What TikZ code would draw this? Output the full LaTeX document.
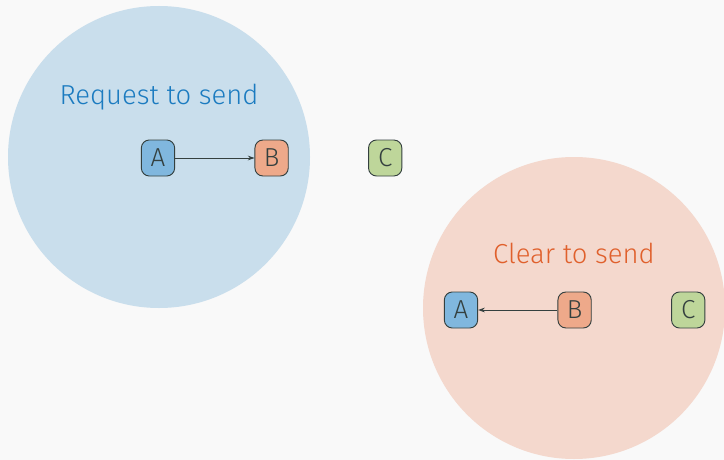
\documentclass[tikz,border=0pt]{standalone}
\usepackage{fontspec}
\setmainfont{Fira Sans}[UprightFont=* Light]
\usepackage{tikz}
\usetikzlibrary{arrows.meta,positioning}
\definecolor{bgcol}{HTML}{F9F9F9}
\definecolor{rtsfill}{HTML}{C9DEEC}
\definecolor{ctsfill}{HTML}{F4D8CD}
\definecolor{rtstext}{HTML}{1B7BC0}
\definecolor{ctstext}{HTML}{E0602C}
\definecolor{nodeA}{HTML}{80B7DE}
\definecolor{nodeB}{HTML}{EEA98A}
\definecolor{nodeC}{HTML}{BED69A}
\definecolor{edge}{HTML}{34403F}
\tikzset{
  station/.style={draw=edge, line width=0.7pt, rounded corners=6pt, minimum width=25pt, minimum height=27pt, inner sep=0pt, font=\fontsize{19.5}{21}\selectfont, text=edge},
  sta/.style={station, fill=nodeA},
  stb/.style={station, fill=nodeB},
  stc/.style={station, fill=nodeC},
  coverage/.style={circle, minimum size=226.5pt, inner sep=0pt},
  title/.style={font=\fontsize{20.6}{24}\selectfont},
  msg/.style={-{Stealth[length=5pt,width=3.5pt]}, edge, line width=0.6pt}
}
\begin{document}
\begin{tikzpicture}[x=0.75pt, y=-0.75pt, node distance=59.5pt]
  \fill[bgcol] (0,0) rectangle (724,460);
  \useasboundingbox (0,0) rectangle (724,460);
  \clip (0,0) rectangle (724,460);
  % request to send
  \node[coverage, fill=rtsfill] (rts) at (159,157) {};
  \node[title, text=rtstext] (rtslabel) at (159,97) {Request to send};
  \node[sta] (a1) at (158,158) {A};
  \node[stb, right=of a1] (b1) {B};
  \node[stc, right=of b1] (c1) {C};
  \draw[msg] (a1) -- (b1);
  % clear to send
  \node[coverage, fill=ctsfill] (cts) at (574,308) {};
  \node[title, text=ctstext] (ctslabel) at (574,253) {Clear to send};
  \node[sta] (a2) at (461,310) {A};
  \node[stb, right=of a2] (b2) {B};
  \node[stc, right=of b2] (c2) {C};
  \draw[msg] (b2) -- (a2);
\end{tikzpicture}
\end{document}
